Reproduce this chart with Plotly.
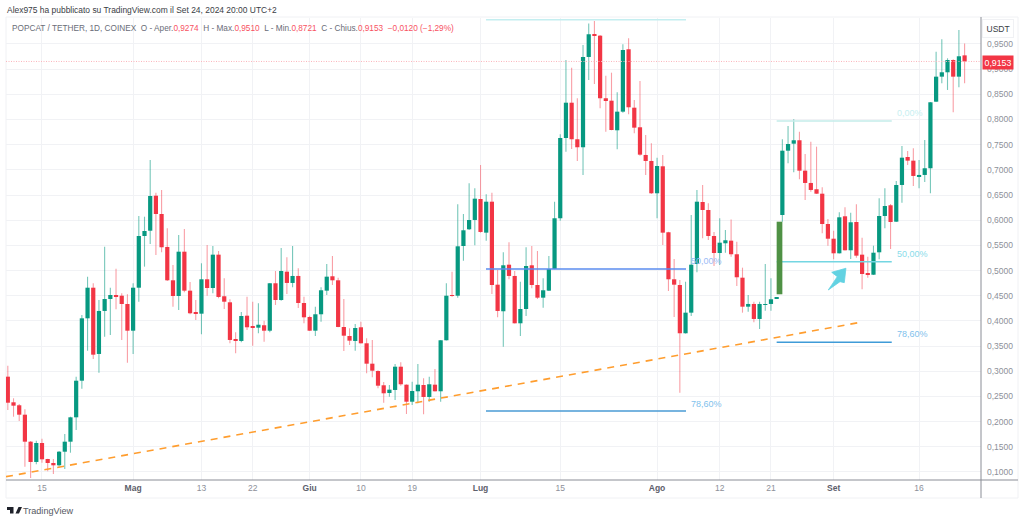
import plotly.graph_objects as go
import pandas as pd

FIRST_DAY = "2024-04-09"
opens = [.2893,.2384,.2325,.2138,.1602,.1199,.1576,.1258,.1179,.1133,
.1403,.1602,.2086,.2813,.4052,.4660,.3344,.4198,.4436,.4515,
.4501,.4336,.3806,.4660,.5687,.5792,.6487,.6124,.5469,.4807,
.4495,.5375,.4601,.4158,.4144,.4827,.4654,.5316,.4490,.4370,
.3622,.3602,.4104,.3880,.3866,.3914,.3806,.4748,.4416,.4978,
.4754,.4893,.4356,.4078,.3806,.4132,.4601,.4887,.4807,.3880,
.3701,.3602,.3874,.3556,.3151,.3006,.2722,.2569,.2629,.3091,
.2734,.2396,.2603,.2728,.2490,.2734,.2603,.3616,.4509,.4501,
.5488,.5820,.6005,.6422,.5753,.6368,.4720,.4192,.5117,.4893,
.3953,.4237,.5105,.4714,.4462,.4601,.5032,.6039,.7633,.8334,
.7608,.7449,.9242,.9693,.9665,.8422,.8374,.7786,.8156,.9395,
.8235,.7846,.7296,.7177,.6535,.7071,.5761,.4827,.4714,.3755,
.4164,.5131,.6362,.6203,.5687,.5349,.5542,.5594,.5324,.4859,
.4283,.4337,.4039,.4319,.4337,.4442,.6104,.7381,.7520,.7588,
.6984,.6740,.6615,.6527,.5925,.5633,.5343,.6078,.5403,.5965,
.5316,.4952,.4918,.5363,.6084,.6297,.5971,.6700,.7256,.7183,
.6859,.6899,.7032,.8354,.8851,.8938,.9182,.8851,.9274]
closes = [.2376,.2317,.2138,.1602,.1199,.1576,.1252,.1179,.1133,.1403,
.1602,.2086,.2813,.4052,.4660,.3330,.4198,.4436,.4515,.4495,
.4336,.3806,.4660,.5687,.5786,.6481,.6124,.5463,.4807,.4495,
.5375,.4601,.4152,.4144,.4827,.4654,.5316,.4476,.4382,.3622,
.3608,.4098,.3874,.3868,.3925,.3806,.4748,.4416,.4992,.4754,
.4893,.4356,.4072,.3806,.4132,.4609,.4879,.4807,.3880,.3707,
.3608,.3860,.3556,.3151,.3012,.2714,.2563,.2635,.3091,.2742,
.2396,.2609,.2734,.2490,.2742,.2603,.3616,.4501,.4497,.5482,
.5800,.6005,.6428,.5767,.6368,.4714,.4198,.5105,.4893,.3953,
.4237,.5091,.4714,.4462,.4609,.5032,.6039,.7633,.8334,.7608,
.7449,.9242,.9693,.9665,.8422,.8368,.7792,.8156,.9381,.8243,
.7838,.7302,.7177,.6535,.7077,.5753,.4827,.4720,.3755,.4164,
.5117,.6368,.6203,.5687,.5349,.5554,.5602,.5324,.4867,.4283,
.4337,.4039,.4337,.4331,.4430,.4456,.7381,.7514,.7588,.6984,
.6740,.6601,.6527,.5925,.5633,.5343,.6058,.5403,.5959,.5296,
.4932,.4918,.5355,.6084,.6283,.5965,.6700,.7242,.7183,.6879,
.6899,.7032,.8342,.8851,.8938,.9182,.8851,.9256,.9153]
highs = [.3111,.2464,.2351,.2245,.1616,.1622,.1662,.1265,.1258,.1417,
.1755,.2098,.2893,.4118,.4879,.4748,.4416,.5475,.4660,.5038,
.4549,.4529,.4748,.6084,.6070,.7196,.6547,.6601,.5840,.5111,
.5707,.5826,.4773,.4416,.5145,.5508,.5488,.5389,.4847,.4430,
.3775,.4178,.4482,.4382,.4350,.4005,.4754,.4992,.5449,.5264,
.5488,.5046,.4482,.4104,.4283,.4668,.5131,.5290,.4859,.4436,
.3854,.3939,.3985,.3655,.3622,.3020,.2788,.2728,.3145,.3179,
.2740,.2793,.3145,.2861,.2893,.3046,.3622,.4748,.4978,.6317,
.6124,.6734,.6634,.7097,.6515,.6547,.5012,.5363,.5562,.4992,
.4779,.5463,.5488,.5389,.4847,.5290,.6368,.7707,.9182,.9029,
.8422,.9480,.9909,.9957,.9679,.8871,.8930,.8541,.9494,.9613,
.8388,.8765,.7693,.7528,.7242,.7296,.5772,.5230,.4813,.4779,
.6104,.6601,.6700,.6337,.5767,.6039,.5806,.6015,.5574,.5058,
.4515,.4382,.4382,.5131,.4847,.4466,.7607,.7872,.8005,.7758,
.7316,.7560,.7461,.6654,.6025,.5792,.6158,.6257,.6150,.6317,
.5653,.5276,.5494,.6436,.6634,.6323,.6779,.7474,.7375,.7429,
.7196,.7594,.8348,.9347,.9594,.9216,.9196,.9778,.9510]
lows = [.2231,.2098,.2013,.1105,.0881,.1153,.1185,.1014,.0960,.1105,
.1060,.1383,.1834,.2654,.3409,.3244,.2972,.3687,.3721,.4231,
.3622,.3171,.3344,.4382,.5078,.5528,.5310,.5363,.4793,.4283,
.4218,.4569,.4132,.4019,.3735,.4501,.4549,.4450,.4237,.3556,
.3358,.3576,.3820,.3508,.3755,.3588,.3775,.4317,.4402,.4535,
.4668,.4257,.3953,.3800,.3701,.3985,.4515,.4714,.3874,.3403,
.3522,.3409,.3550,.2960,.2881,.2662,.2376,.2496,.2430,.2714,
.2152,.2331,.2364,.2146,.2396,.2597,.2396,.3610,.4482,.4462,
.5197,.5806,.5502,.5753,.5594,.4535,.4072,.3489,.4827,.3947,
.3701,.4098,.4648,.4436,.4263,.4595,.5026,.5991,.7361,.7415,
.7177,.6899,.8785,.8706,.8223,.7758,.7786,.7409,.8136,.8104,
.7727,.7282,.6899,.6521,.6039,.5508,.4595,.4078,.2575,.3749,
.4098,.4966,.5641,.5607,.5091,.5111,.5355,.5276,.4694,.4164,
.4184,.3973,.3840,.4203,.4203,.4436,.5971,.7131,.6952,.6813,
.6402,.6567,.6521,.5741,.5494,.5224,.5337,.5397,.5230,.5256,
.4628,.4859,.4912,.5224,.5840,.5429,.5965,.6348,.7097,.6680,
.6634,.6760,.6535,.8348,.8720,.8587,.8144,.8640,.8721]

tick_dates = ["2024-04-15","2024-05-01","2024-05-13","2024-05-22","2024-06-01","2024-06-10","2024-06-19",
              "2024-07-01","2024-07-15","2024-08-01","2024-08-12","2024-08-21","2024-09-01","2024-09-16"]
tick_names = ["15","Mag","13","22","Giu","10","19","Lug","15","Ago","12","21","Set","16"]
price_ticks = [.10,.15,.20,.25,.30,.35,.40,.45,.50,.55,.60,.65,.70,.75,.80,.85,.90,.95,1.0]
price_names = ["0,1000","0,1500","0,2000","0,2500","0,3000","0,3500","0,4000","0,4500","0,5000","0,5500",
               "0,6000","0,6500","0,7000","0,7500","0,8000","0,8500","0,9000","0,9500",""]
last_price = 0.9153

fib_left_dates = ["2024-07-01 23:00", "2024-08-06 02:00"]
fib_left = [(0.9982, "#c4eef0"), (0.5032, "#5b8def"), (0.2212, "#4a9bd4")]
fib_right_dates = ["2024-08-22", "2024-09-11 05:00"]
fib_right = [(0.7971, "#c4ecea"), (0.5177, "#74d6e2"), (0.3576, "#3f9bd8")]
trend_dates = ["2024-04-08 16:19", "2024-09-06"]
trend_prices = [0.0907, 0.3979]
arrow_dates = ["2024-09-03 04:00","2024-08-31 16:00","2024-09-01 15:36","2024-08-31 01:40","2024-09-02 03:00","2024-09-02 21:00","2024-09-03 04:00"]
arrow_prices = [.5046,.4966,.4879,.4615,.4780,.4760,.5046]
block_dates = ["2024-08-22 00:00", "2024-08-23 00:00"]
block_prices = [.4529, .5971]

GREEN, RED = "#089981", "#f23645"
GREEN_W, RED_W = "rgba(8,153,129,0.55)", "rgba(242,54,69,0.48)"
L, R, T, B = 6, 981, 18, 480
W, H = 1024, 522
def px(x): return (x - L) / (R - L)
def py(y): return (B - y) / (B - T)

dates = pd.date_range(FIRST_DAY, periods=len(opens), freq="D")
colors = [GREEN if c >= o else RED for o, c in zip(opens, closes)]

fig = go.Figure()
fig.add_trace(go.Bar(x=dates, base=[min(o, c) for o, c in zip(opens, closes)],
                     y=[max(abs(c - o), 0.0012) for o, c in zip(opens, closes)],
                     width=0.74 * 86400000, marker=dict(color=colors, line=dict(width=0)), hoverinfo="skip"))
for col, wick in ((GREEN, GREEN_W), (RED, RED_W)):
    xs, ys = [], []
    for d, h, l, c in zip(dates, highs, lows, colors):
        if c == col:
            xs += [d, d, None]; ys += [l, h, None]
    fig.add_trace(go.Scatter(x=xs, y=ys, mode="lines", line=dict(color=wick, width=1.1), hoverinfo="skip"))

for pr, col in fib_left:
    fig.add_trace(go.Scatter(x=fib_left_dates, y=[pr, pr], mode="lines", line=dict(color=col, width=1.5), hoverinfo="skip"))
for pr, col in fib_right:
    fig.add_trace(go.Scatter(x=fib_right_dates, y=[pr, pr], mode="lines", line=dict(color=col, width=1.5), hoverinfo="skip"))
fig.add_trace(go.Scatter(x=trend_dates, y=trend_prices, mode="lines",
                         line=dict(color="#ff9d2e", width=1.6, dash="7px,6px"), hoverinfo="skip"))
fig.add_trace(go.Scatter(x=arrow_dates, y=arrow_prices, mode="lines", fill="toself", fillcolor="#62d2e2",
                         line=dict(color="#62d2e2", width=0.8), hoverinfo="skip"))

shapes = [
    dict(type="rect", xref="x", yref="y", x0=block_dates[0], x1=block_dates[1], y0=block_prices[0], y1=block_prices[1],
         fillcolor="#4f9145", line=dict(width=0)),
    dict(type="line", xref="paper", yref="y", x0=0, x1=1, y0=last_price, y1=last_price,
         line=dict(color="#fbb4ba", width=1, dash="1px,1.5px")),
    dict(type="line", xref="paper", yref="paper", x0=1, x1=1, y0=py(498), y1=py(17), line=dict(color="#8a8d96", width=1)),
    dict(type="line", xref="paper", yref="paper", x0=0, x1=px(1018), y0=0, y1=0, line=dict(color="#8a8d96", width=1)),
    dict(type="rect", xref="paper", yref="paper", x0=0, x1=px(1018), y0=py(498), y1=py(17), line=dict(color="#f0f1f4", width=1), layer="below"),
    dict(type="path", xref="paper", yref="paper", xsizemode="pixel", ysizemode="pixel", xanchor=px(7), yanchor=py(513.5),
         path="M0 6.5 L6.5 6.5 L6.5 0 L3 0 L3 3.5 L0 3.5 Z M8.5 5 A1.5 1.5 0 1 1 8.49 5 Z M8.5 0 L12 0 L15 6.5 L11.5 6.5 Z",
         fillcolor="#1f222b", line=dict(width=0)),
]

def note(x, y, text, size=8.8, color="#787b86", xanchor="left", **kw):
    return dict(xref="paper", yref="paper", x=px(x), y=py(y), text=text, showarrow=False, xanchor=xanchor, yanchor="middle",
                font=dict(family="Liberation Sans", size=size, color=color), **kw)

red = lambda s: f'<span style="color:#f7525f">{s}</span>'
header = ("POPCAT / TETHER, 1D, COINEX&nbsp;&nbsp;O - Aper." + red("0,9274") + "&nbsp;&nbsp;H - Max." + red("0,9510")
          + "&nbsp;&nbsp;L - Min." + red("0,8721") + "&nbsp;&nbsp;C - Chius." + red("0,9153") + "&nbsp;&nbsp;" + red("\u22120,0120 (\u22121,29%)"))
annotations = [
    note(5, 10, "Alex975 ha pubblicato su TradingView.com il Set 24, 2024 20:00 UTC+2", size=8.45, color="#3a3d45"),
    note(10, 28, header, size=8.25, color="#6a6d78"),
    note(20.5, 511, "TradingView", size=9.1, color="#555862"),
    note(689, 261, "50,00%", size=9, color="#9cbcf6"),
    note(689, 404, "78,60%", size=9, color="#7fc1ec"),
    note(895, 113, "0,00%", size=9, color="#c8eff1"),
    note(895, 254, "50,00%", size=9, color="#8adcea"),
    note(895, 334, "78,60%", size=9, color="#7fc1ec"),
    note(998, 62, "0,9153", size=8.8, color="#ffffff", xanchor="center", bgcolor="#f23645", borderpad=1.5),
    note(998.5, 28.5, "USDT", size=8.5, color="#3a3d45", xanchor="center", bgcolor="#ffffff", bordercolor="#f0f1f4", borderwidth=1, borderpad=3.5),
]

def fmt_tick(n):
    if n.isdigit():
        return n
    return f'<span style="color:#5d606b"><b>{n}</b></span>'

fig.update_layout(
    width=W, height=H, margin=dict(l=L, r=W - R, t=T, b=H - B), paper_bgcolor="#ffffff", plot_bgcolor="#ffffff",
    showlegend=False, barmode="overlay", shapes=shapes, annotations=annotations,
    xaxis=dict(type="date", range=["2024-04-08 16:19", "2024-09-26 21:07"], tickmode="array", tickvals=tick_dates,
               ticktext=[fmt_tick(n) for n in tick_names], showgrid=True, gridcolor="#f1f2f5", gridwidth=1, zeroline=False,
               showline=False, ticks="", tickfont=dict(family="Liberation Sans", size=8.5, color="#8d9099"), ticklabelstandoff=1),
    yaxis=dict(side="right", range=[0.0841, 1.0016], tickmode="array", tickvals=price_ticks, ticktext=price_names,
               showgrid=True, gridcolor="#f1f2f5", gridwidth=1, zeroline=False, showline=False, ticks="",
               tickfont=dict(family="Liberation Sans", size=8.5, color="#8d9099"), ticklabelstandoff=5),
)
fig.write_html("out.html", config={"displayModeBar": False},
               post_script="document.body.style.margin='0';document.body.style.overflow='hidden';")
